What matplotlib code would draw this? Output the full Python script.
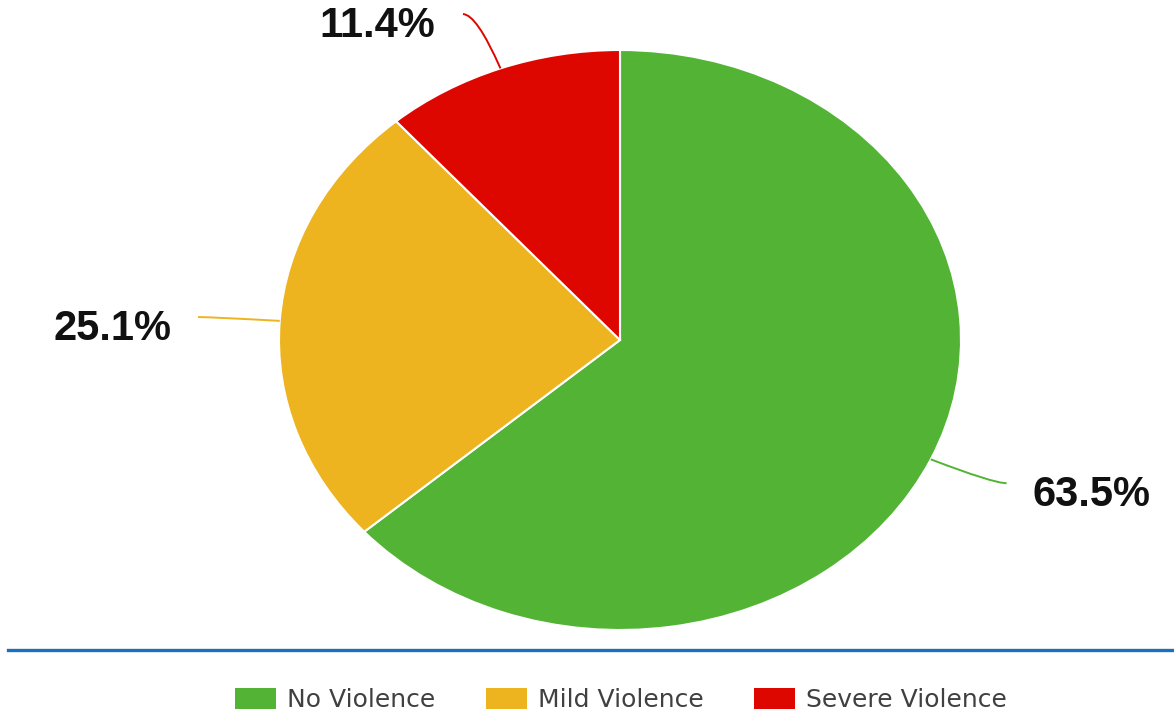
import numpy as np
import matplotlib.pyplot as plt
from matplotlib.lines import Line2D
from matplotlib.path import Path
from matplotlib.patches import PathPatch

categories = ['No Violence', 'Mild Violence', 'Severe Violence']
shares = [63.5, 25.1, 11.4]
colors = ['#52b335', '#edb41f', '#de0700']

W, H = 1174, 715
fig = plt.figure(figsize=(W / 100, H / 100), dpi=100)
fig.patch.set_facecolor('white')

# full-figure axes, pie stretched into an ellipse (centre 620,340; rx 341, ry 290 px)
ax = fig.add_axes([0, 0, 1, 1])
wedges, _ = ax.pie(
    shares,
    colors=colors,
    startangle=90,
    counterclock=False,
    wedgeprops=dict(edgecolor='white', linewidth=1.5),
)
cx, cy, rx, ry = 620, 340, 341, 290
ax.set_aspect('auto')
ax.set_xlim(-cx / rx, (W - cx) / rx)
ax.set_ylim((cy - H) / ry, cy / ry)
ax.axis('off')

# percentage labels with curved leader lines (radial, then hooking horizontal)
for w, pct, col in zip(wedges, shares, colors):
    ang = np.deg2rad((w.theta1 + w.theta2) / 2)
    ex, ey = np.cos(ang), np.sin(ang)
    side = 1 if ex > 0 else -1
    kx, ky = 1.2 * ex, 1.2 * ey
    lx, ly = kx + side * 0.04, ky
    path = Path([(ex, ey), (kx, ky), (lx, ly)],
                [Path.MOVETO, Path.CURVE3, Path.CURVE3])
    ax.add_patch(PathPatch(path, facecolor='none', edgecolor=col, lw=1.4,
                           clip_on=False))
    ax.text(lx + side * 0.25, ly - 0.042, f'{pct:.1f}%',
            ha='center', va='center', fontsize=30, fontweight='bold',
            family='Liberation Sans', color='#111111')

# blue divider
fig.add_artist(Line2D([8 / W, 1], [1 - 650 / H] * 2, color='#1b6fc2', lw=2.4,
                      transform=fig.transFigure))

leg = fig.legend(
    wedges, categories, loc='center', ncol=3, frameon=False,
    bbox_to_anchor=(621 / W, 1 - 700 / H),
    prop=dict(family='DejaVu Sans', size=18),
    handlelength=1.65, handleheight=0.9, handletextpad=0.45,
    columnspacing=2.0, labelcolor='#404040',
)
for h in leg.legend_handles:
    h.set_edgecolor('none')

fig.savefig('out.png', dpi=100, facecolor='white')
